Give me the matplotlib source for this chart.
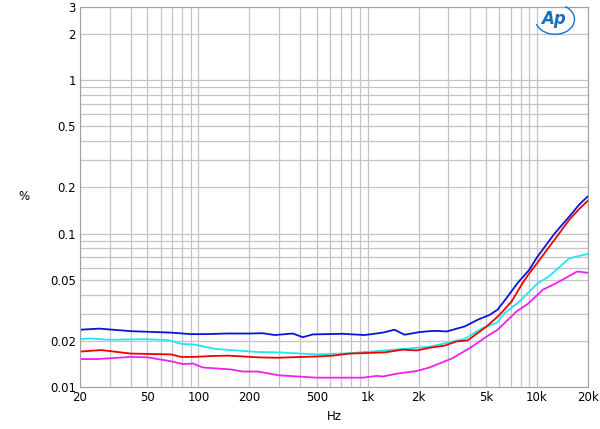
import matplotlib
matplotlib.use('Agg')
import matplotlib.pyplot as plt
from matplotlib.ticker import FixedLocator, NullFormatter
from matplotlib.patches import Arc

# THD+N vs frequency
blue_f = [20, 26, 40, 69, 90, 110, 150, 200, 240, 283, 361, 414, 474, 712, 960, 1230,
          1440, 1650, 2030, 2320, 2550, 2930, 3740, 4460, 5250, 5850, 6610, 7680, 9000,
          10000, 12700, 15600, 17800, 20000]
blue_v = [0.0236, 0.0240, 0.0231, 0.0226, 0.0221, 0.0221, 0.0223, 0.0223, 0.0224, 0.0218,
          0.0223, 0.0211, 0.0220, 0.0222, 0.0218, 0.0226, 0.0236, 0.0219, 0.0228, 0.0231,
          0.0232, 0.0230, 0.0248, 0.0274, 0.0295, 0.0319, 0.0380, 0.0476, 0.058, 0.070,
          0.100, 0.130, 0.155, 0.175]

cyan_f = [20, 23, 30, 48, 66, 79, 95, 125, 225, 300, 500, 783, 1350, 2320, 2770, 3170,
          3740, 4770, 5770, 6440, 7890, 10000, 11900, 13000, 15500, 17800, 20000]
cyan_v = [0.0205, 0.0207, 0.0203, 0.0205, 0.0202, 0.0191, 0.0189, 0.0177, 0.0169, 0.0168,
          0.0163, 0.0166, 0.0174, 0.0183, 0.0191, 0.0198, 0.0206, 0.0242, 0.0261, 0.0303,
          0.0361, 0.047, 0.053, 0.058, 0.069, 0.0715, 0.0735]

red_f = [20, 26.6, 40, 69, 79, 95, 119, 150, 225, 290, 500, 622, 783, 1260, 1610, 1950,
         2320, 2850, 3350, 3890, 5040, 6010, 7080, 8220, 9000, 10000, 13500, 15500, 17800,
         20000]
red_v = [0.0170, 0.0174, 0.0165, 0.0163, 0.0157, 0.0157, 0.0159, 0.0160, 0.0156, 0.0155,
         0.0158, 0.0160, 0.0165, 0.0168, 0.0175, 0.0173, 0.0180, 0.0186, 0.0198, 0.0201,
         0.0248, 0.0295, 0.0361, 0.0476, 0.055, 0.064, 0.100, 0.123, 0.145, 0.164]

mag_f = [20, 25.5, 40, 50, 69, 81, 93, 106, 156, 183, 225, 300, 500, 935, 1130, 1230,
         1480, 1950, 2320, 3170, 4000, 5040, 5850, 7575, 8800, 10350, 10800, 13100, 17300,
         20000]
mag_v = [0.0152, 0.0152, 0.0157, 0.0156, 0.0147, 0.0141, 0.0142, 0.0134, 0.0130, 0.0126,
         0.0126, 0.0119, 0.0115, 0.0115, 0.0118, 0.0117, 0.0122, 0.0127, 0.0134, 0.0154,
         0.0179, 0.0213, 0.0236, 0.0311, 0.0347, 0.0410, 0.0430, 0.0477, 0.0566, 0.0554]

x_ticks = [20, 50, 100, 200, 500, 1000, 2000, 5000, 10000, 20000]
x_labels = ['20', '50', '100', '200', '500', '1k', '2k', '5k', '10k', '20k']
y_ticks = [0.01, 0.02, 0.05, 0.1, 0.2, 0.5, 1, 2, 3]
y_labels = ['0.01', '0.02', '0.05', '0.1', '0.2', '0.5', '1', '2', '3']

fig = plt.figure(figsize=(6, 4.29), dpi=100)
ax = fig.add_axes([0.1333, 0.098, 0.8467, 0.886])

ax.plot(blue_f, blue_v, color='#0a14d8', lw=1.3)
ax.plot(cyan_f, cyan_v, color='#1ee8f0', lw=1.3)
ax.plot(red_f, red_v, color='#f00000', lw=1.3)
ax.plot(mag_f, mag_v, color='#f020f0', lw=1.3)

ax.set_xscale('log')
ax.set_yscale('log')
ax.set_xlim(20, 20000)
ax.set_ylim(0.01, 3)

ax.xaxis.set_major_locator(FixedLocator(x_ticks))
ax.set_xticklabels(x_labels)
ax.xaxis.set_minor_locator(FixedLocator(
    [m * d for d in (10, 100, 1000, 10000) for m in range(1, 10) if 20 <= m * d <= 20000]))
ax.xaxis.set_minor_formatter(NullFormatter())
ax.yaxis.set_major_locator(FixedLocator(y_ticks))
ax.set_yticklabels(y_labels)
ax.yaxis.set_minor_locator(FixedLocator(
    [m * d for d in (0.01, 0.1, 1) for m in range(1, 10) if m * d <= 3]))
ax.yaxis.set_minor_formatter(NullFormatter())

ax.grid(True, which='both', color='#c4c4c4', lw=0.9)
ax.set_axisbelow(True)
ax.tick_params(which='both', length=0, labelsize=8.5, pad=3)
for s in ax.spines.values():
    s.set_color('#a0a0a0')

ax.set_xlabel('Hz', fontsize=8.5, labelpad=4)
ax.set_ylabel('%', fontsize=8.5, rotation=0, va='center', ha='center')
ax.yaxis.set_label_coords(-0.11, 0.5)

# AP logo
fig.text(0.922, 0.955, 'Ap', color='#1a6fc0', fontsize=12, fontweight='bold',
         style='italic', ha='center', va='center')
fig.patches.append(Arc((0.925, 0.955), 0.065, 0.07, theta1=200, theta2=60,
                       transform=fig.transFigure, color='#1a6fc0', lw=1.0))

fig.savefig('out.png', dpi=100)
